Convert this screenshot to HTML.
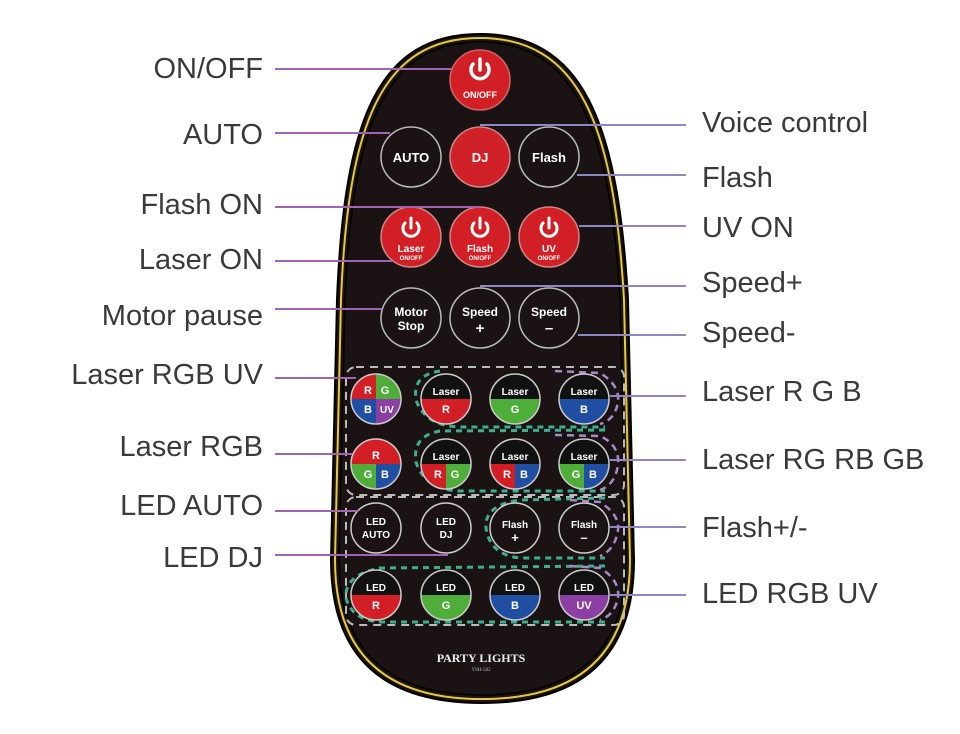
<!DOCTYPE html>
<html><head><meta charset="utf-8"><style>
html,body{margin:0;padding:0;background:#fff;width:960px;height:734px;overflow:hidden}
svg{display:block}
.l{font-family:"Liberation Sans",sans-serif;font-size:29px;fill:#3a3a3a}
.b{font-family:"Liberation Sans",sans-serif;font-weight:bold;fill:#fff;text-anchor:middle}
</style></head><body>
<svg width="960" height="734" viewBox="0 0 960 734" xmlns="http://www.w3.org/2000/svg">
<defs>
<clipPath id="c1"><circle r="25"/></clipPath>
</defs>
<!-- remote -->
<path d="M480 34 C378 34 344 120 337 300 L331 560 Q331 703 482 703 Q634 703 634 560 L628 300 C618 120 582 34 480 34 Z" fill="#1a1213" stroke="#000" stroke-width="2"/>
<path d="M480 38 C382 38 348 122 341 300 L335 560 Q335 699 482 699 Q630 699 630 560 L624 300 C614 122 578 38 480 38 Z" fill="none" stroke="#e7c93b" stroke-width="2"/>
<path d="M480 42 C386 42 352 124 345 300 L339 560 Q339 695 482 695 Q626 695 626 560 L620 300 C610 124 574 42 480 42 Z" fill="none" stroke="#000" stroke-width="1.5"/>

<!-- dashed frames -->
<g fill="none" stroke="#bbb" stroke-width="2" stroke-dasharray="8,6">
<rect x="346" y="367" width="278" height="128" rx="10"/>
<rect x="346" y="497" width="278" height="128" rx="10"/>
</g>
<g fill="none" stroke="#3bb08f" stroke-width="3" stroke-dasharray="6,5">
<path d="M440 371 Q412 375 416 400 Q425 426 460 427 L605 427"/>
<path d="M605 430 L440 431 Q412 436 416 462 Q425 490 460 491 L605 491"/>
<path d="M605 498 L520 500 Q484 505 486 528 Q490 555 520 558 L605 558"/>
<path d="M605 566 L380 568 Q344 575 346 598 Q352 620 380 622 L605 622"/>
</g>
<g fill="none" stroke="#a889c9" stroke-width="2.5" stroke-dasharray="7,5">
<path d="M555 371 L600 373 Q620 385 618 402 Q615 420 600 424"/>
<path d="M555 435 L600 436 Q620 445 618 465 Q615 485 600 490"/>
<path d="M570 500 L600 502 Q620 515 618 530 Q615 550 600 556"/>
<path d="M570 566 L600 568 Q620 580 618 597 Q615 615 600 620"/>
</g>

<circle cx="480" cy="80" r="30" fill="#d21f26" stroke="#c66" stroke-width="1.5"/>
<path d="M473 64 A9 9 0 1 0 487 64" fill="none" stroke="#fff" stroke-width="3.5" stroke-linecap="round"/>
<line x1="480" y1="59" x2="480" y2="70" stroke="#fff" stroke-width="3.5" stroke-linecap="round"/>
<text class="b" x="480" y="98" font-size="9">ON/OFF</text>

<!-- row2 -->
<circle cx="411" cy="157" r="30" fill="#1a1213" stroke="#bbb" stroke-width="1.5"/>
<text class="b" x="411" y="162" font-size="13">AUTO</text>
<circle cx="480" cy="157" r="30" fill="#cf2127" stroke="#c88" stroke-width="1.5"/>
<text class="b" x="480" y="162" font-size="13">DJ</text>
<circle cx="549" cy="157" r="30" fill="#1a1213" stroke="#bbb" stroke-width="1.5"/>
<text class="b" x="549" y="162" font-size="13">Flash</text>

<!-- row3 -->
<g>
<circle cx="411" cy="237" r="30" fill="#d21f26" stroke="#c88" stroke-width="1.5"/>
<path d="M405 223 A8 8 0 1 0 417 223" fill="none" stroke="#fff" stroke-width="3" stroke-linecap="round"/>
<line x1="411" y1="218" x2="411" y2="228" stroke="#fff" stroke-width="3" stroke-linecap="round"/>
<text class="b" x="411" y="252" font-size="10">Laser</text><text class="b" x="411" y="260" font-size="6">ON/OFF</text>
<circle cx="480" cy="237" r="30" fill="#d21f26" stroke="#c88" stroke-width="1.5"/>
<path d="M474 223 A8 8 0 1 0 486 223" fill="none" stroke="#fff" stroke-width="3" stroke-linecap="round"/>
<line x1="480" y1="218" x2="480" y2="228" stroke="#fff" stroke-width="3" stroke-linecap="round"/>
<text class="b" x="480" y="252" font-size="10">Flash</text><text class="b" x="480" y="260" font-size="6">ON/OFF</text>
<circle cx="549" cy="237" r="30" fill="#d21f26" stroke="#c88" stroke-width="1.5"/>
<path d="M543 223 A8 8 0 1 0 555 223" fill="none" stroke="#fff" stroke-width="3" stroke-linecap="round"/>
<line x1="549" y1="218" x2="549" y2="228" stroke="#fff" stroke-width="3" stroke-linecap="round"/>
<text class="b" x="549" y="252" font-size="10">UV</text><text class="b" x="549" y="260" font-size="6">ON/OFF</text>
</g>

<!-- row4 -->
<circle cx="411" cy="318" r="30" fill="#1a1213" stroke="#bbb" stroke-width="1.5"/>
<text class="b" x="411" y="316" font-size="12">Motor</text><text class="b" x="411" y="330" font-size="12">Stop</text>
<circle cx="480" cy="318" r="30" fill="#1a1213" stroke="#bbb" stroke-width="1.5"/>
<text class="b" x="480" y="316" font-size="12">Speed</text><text class="b" x="480" y="333" font-size="15">+</text>
<circle cx="549" cy="318" r="30" fill="#1a1213" stroke="#bbb" stroke-width="1.5"/>
<text class="b" x="549" y="316" font-size="12">Speed</text><text class="b" x="549" y="333" font-size="15">–</text>

<!-- row5 -->
<g transform="translate(376,399)" clip-path="url(#c1)">
<rect x="-25" y="-25" width="25" height="25" fill="#d21f26"/><rect x="0" y="-25" width="25" height="25" fill="#4fae3a"/>
<rect x="-25" y="0" width="25" height="25" fill="#1f4ea3"/><rect x="0" y="0" width="25" height="25" fill="#8b3fa3"/>
</g>
<circle cx="376" cy="399" r="25" fill="none" stroke="#ccc" stroke-width="1.5"/>
<text class="b" x="368" y="394" font-size="11">R</text><text class="b" x="385" y="394" font-size="11">G</text>
<text class="b" x="368" y="413" font-size="11">B</text><text class="b" x="387" y="413" font-size="10">UV</text>

<g transform="translate(446,399)" clip-path="url(#c1)"><rect x="-25" y="-25" width="50" height="25" fill="#111"/><rect x="-25" y="0" width="50" height="25" fill="#d21f26"/></g>
<circle cx="446" cy="399" r="25" fill="none" stroke="#ccc" stroke-width="1.5"/>
<text class="b" x="446" y="395" font-size="10">Laser</text><text class="b" x="446" y="413" font-size="11">R</text>
<g transform="translate(515,399)" clip-path="url(#c1)"><rect x="-25" y="-25" width="50" height="25" fill="#111"/><rect x="-25" y="0" width="50" height="25" fill="#4fae3a"/></g>
<circle cx="515" cy="399" r="25" fill="none" stroke="#ccc" stroke-width="1.5"/>
<text class="b" x="515" y="395" font-size="10">Laser</text><text class="b" x="515" y="413" font-size="11">G</text>
<g transform="translate(584,399)" clip-path="url(#c1)"><rect x="-25" y="-25" width="50" height="25" fill="#111"/><rect x="-25" y="0" width="50" height="25" fill="#1f4ea3"/></g>
<circle cx="584" cy="399" r="25" fill="none" stroke="#ccc" stroke-width="1.5"/>
<text class="b" x="584" y="395" font-size="10">Laser</text><text class="b" x="584" y="413" font-size="11">B</text>

<!-- row6 -->
<g transform="translate(376,464)" clip-path="url(#c1)"><rect x="-25" y="-25" width="50" height="25" fill="#d21f26"/><rect x="-25" y="0" width="25" height="25" fill="#4fae3a"/><rect x="0" y="0" width="25" height="25" fill="#1f4ea3"/></g>
<circle cx="376" cy="464" r="25" fill="none" stroke="#ccc" stroke-width="1.5"/>
<text class="b" x="376" y="459" font-size="11">R</text><text class="b" x="368" y="478" font-size="11">G</text><text class="b" x="385" y="478" font-size="11">B</text>
<g transform="translate(446,464)" clip-path="url(#c1)"><rect x="-25" y="-25" width="50" height="25" fill="#111"/><rect x="-25" y="0" width="25" height="25" fill="#d21f26"/><rect x="0" y="0" width="25" height="25" fill="#4fae3a"/></g>
<circle cx="446" cy="464" r="25" fill="none" stroke="#ccc" stroke-width="1.5"/>
<text class="b" x="446" y="460" font-size="10">Laser</text><text class="b" x="438" y="478" font-size="11">R</text><text class="b" x="455" y="478" font-size="11">G</text>
<g transform="translate(515,464)" clip-path="url(#c1)"><rect x="-25" y="-25" width="50" height="25" fill="#111"/><rect x="-25" y="0" width="25" height="25" fill="#d21f26"/><rect x="0" y="0" width="25" height="25" fill="#1f4ea3"/></g>
<circle cx="515" cy="464" r="25" fill="none" stroke="#ccc" stroke-width="1.5"/>
<text class="b" x="515" y="460" font-size="10">Laser</text><text class="b" x="507" y="478" font-size="11">R</text><text class="b" x="524" y="478" font-size="11">B</text>
<g transform="translate(584,464)" clip-path="url(#c1)"><rect x="-25" y="-25" width="50" height="25" fill="#111"/><rect x="-25" y="0" width="25" height="25" fill="#4fae3a"/><rect x="0" y="0" width="25" height="25" fill="#1f4ea3"/></g>
<circle cx="584" cy="464" r="25" fill="none" stroke="#ccc" stroke-width="1.5"/>
<text class="b" x="584" y="460" font-size="10">Laser</text><text class="b" x="576" y="478" font-size="11">G</text><text class="b" x="593" y="478" font-size="11">B</text>

<!-- row7 -->
<circle cx="376" cy="528" r="25" fill="#1a1213" stroke="#ccc" stroke-width="1.5"/>
<text class="b" x="376" y="525" font-size="10">LED</text><text class="b" x="376" y="538" font-size="10">AUTO</text>
<circle cx="446" cy="528" r="25" fill="#1a1213" stroke="#ccc" stroke-width="1.5"/>
<text class="b" x="446" y="525" font-size="10">LED</text><text class="b" x="446" y="538" font-size="10">DJ</text>
<circle cx="515" cy="528" r="25" fill="#1a1213" stroke="#ccc" stroke-width="1.5"/>
<text class="b" x="515" y="528" font-size="10">Flash</text><text class="b" x="515" y="542" font-size="13">+</text>
<circle cx="584" cy="528" r="25" fill="#1a1213" stroke="#ccc" stroke-width="1.5"/>
<text class="b" x="584" y="528" font-size="10">Flash</text><text class="b" x="584" y="542" font-size="13">–</text>

<!-- row8 -->
<g transform="translate(376,595)" clip-path="url(#c1)"><rect x="-25" y="-25" width="50" height="25" fill="#111"/><rect x="-25" y="0" width="50" height="25" fill="#d21f26"/></g>
<circle cx="376" cy="595" r="25" fill="none" stroke="#ccc" stroke-width="1.5"/>
<text class="b" x="376" y="591" font-size="10">LED</text><text class="b" x="376" y="609" font-size="11">R</text>
<g transform="translate(446,595)" clip-path="url(#c1)"><rect x="-25" y="-25" width="50" height="25" fill="#111"/><rect x="-25" y="0" width="50" height="25" fill="#4fae3a"/></g>
<circle cx="446" cy="595" r="25" fill="none" stroke="#ccc" stroke-width="1.5"/>
<text class="b" x="446" y="591" font-size="10">LED</text><text class="b" x="446" y="609" font-size="11">G</text>
<g transform="translate(515,595)" clip-path="url(#c1)"><rect x="-25" y="-25" width="50" height="25" fill="#111"/><rect x="-25" y="0" width="50" height="25" fill="#1f4ea3"/></g>
<circle cx="515" cy="595" r="25" fill="none" stroke="#ccc" stroke-width="1.5"/>
<text class="b" x="515" y="591" font-size="10">LED</text><text class="b" x="515" y="609" font-size="11">B</text>
<g transform="translate(584,595)" clip-path="url(#c1)"><rect x="-25" y="-25" width="50" height="25" fill="#111"/><rect x="-25" y="0" width="50" height="25" fill="#8b3fa3"/></g>
<circle cx="584" cy="595" r="25" fill="none" stroke="#ccc" stroke-width="1.5"/>
<text class="b" x="584" y="591" font-size="10">LED</text><text class="b" x="584" y="609" font-size="11">UV</text>

<text x="481" y="662" font-family="Liberation Serif,serif" font-weight="bold" font-size="12" fill="#eee" text-anchor="middle">PARTY LIGHTS</text>
<text x="481" y="671" font-family="Liberation Serif,serif" font-size="5" fill="#bbb" text-anchor="middle">YSH-502</text>

<!-- connector lines -->
<g stroke="#a462b5" stroke-width="2">
<line x1="275" y1="69" x2="452" y2="69"/>
<line x1="275" y1="133" x2="390" y2="133"/>
<line x1="275" y1="207" x2="480" y2="207"/>
<line x1="275" y1="261" x2="392" y2="261"/>
<line x1="275" y1="309" x2="382" y2="309"/>
<line x1="275" y1="378" x2="356" y2="378"/>
<line x1="275" y1="454" x2="352" y2="454"/>
<line x1="275" y1="511" x2="358" y2="511"/>
<line x1="275" y1="555" x2="448" y2="555"/>
</g>
<g stroke="#8f86c6" stroke-width="2">
<line x1="480" y1="125" x2="686" y2="125"/>
<line x1="577" y1="175" x2="686" y2="175"/>
<line x1="579" y1="226" x2="686" y2="226"/>
<line x1="480" y1="286" x2="686" y2="286"/>
<line x1="578" y1="335" x2="686" y2="335"/>
<line x1="610" y1="396" x2="686" y2="396"/>
<line x1="610" y1="460" x2="686" y2="460"/>
<line x1="610" y1="527" x2="686" y2="527"/>
<line x1="610" y1="595" x2="686" y2="595"/>
</g>

<!-- labels -->
<g class="l" text-anchor="end">
<text x="263" y="78">ON/OFF</text>
<text x="263" y="144">AUTO</text>
<text x="263" y="214">Flash ON</text>
<text x="263" y="269">Laser ON</text>
<text x="263" y="325">Motor pause</text>
<text x="263" y="384">Laser RGB UV</text>
<text x="263" y="456">Laser RGB</text>
<text x="263" y="515">LED AUTO</text>
<text x="263" y="567">LED DJ</text>
</g>
<g class="l">
<text x="702" y="132">Voice control</text>
<text x="702" y="187">Flash</text>
<text x="702" y="237">UV ON</text>
<text x="702" y="292">Speed+</text>
<text x="702" y="342">Speed-</text>
<text x="702" y="401">Laser R G B</text>
<text x="702" y="469">Laser RG RB GB</text>
<text x="702" y="537">Flash+/-</text>
<text x="702" y="603">LED RGB UV</text>
</g>
</svg>
</body></html>
